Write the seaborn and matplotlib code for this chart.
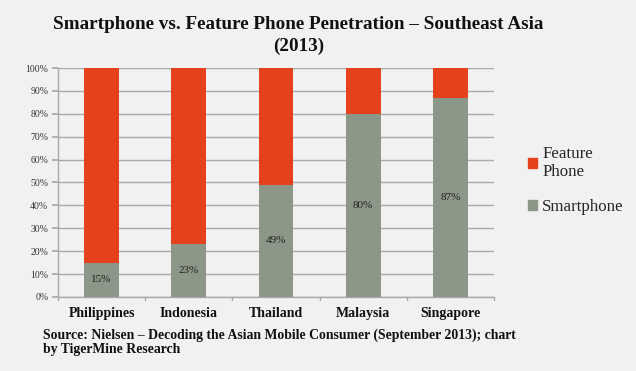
import matplotlib
matplotlib.use("Agg")
import matplotlib.pyplot as plt
from matplotlib.patches import Patch
import seaborn as sns
import pandas as pd
import numpy as np

countries = ["Philippines", "Indonesia", "Thailand", "Malaysia", "Singapore"]
smartphone = [15, 23, 49, 80, 87]
feature_phone = [85, 77, 51, 20, 13]
y_ticks = [0, 10, 20, 30, 40, 50, 60, 70, 80, 90, 100]

orange = "#e5411d"
grey = "#8c9787"
bg = "#f1f1f1"

sns.set_theme(style="white")
plt.rcParams["font.family"] = ["Liberation Serif", "DejaVu Serif"]

df = pd.DataFrame({
    "country": countries,
    "Smartphone": smartphone,
    "Feature Phone": feature_phone,
})
df["total"] = df["Smartphone"] + df["Feature Phone"]

fig = plt.figure(figsize=(6.36, 3.71), dpi=100, facecolor=bg)
ax = fig.add_axes([0.0912, 0.1995, 0.6855, 0.6172])
ax.set_facecolor(bg)

# stacked look: full bar in orange, smartphone share drawn over it
sns.barplot(df, x="country", y="total", color=orange, width=0.4,
            saturation=1, linewidth=0, edgecolor="none", ax=ax, zorder=3)
sns.barplot(df, x="country", y="Smartphone", color=grey, width=0.4,
            saturation=1, linewidth=0, edgecolor="none", ax=ax, zorder=3)

for i, v in enumerate(smartphone):
    ax.text(i, v / 2, f"{v}%", ha="center", va="center", fontsize=8,
            color="#222222", zorder=4)

ax.set_ylim(0, 100)
ax.set_xlim(-0.5, 4.5)
ax.set_yticks(y_ticks)
ax.set_yticklabels([f"{t}%" for t in y_ticks], fontsize=7, color="#333333")
ax.yaxis.grid(True, color="#a9a9a9", linewidth=1, zorder=0)
ax.set_xticks(range(len(countries)))
ax.set_xticklabels(countries, fontsize=10, fontweight="bold", color="#111111")
ax.tick_params(axis="x", length=0, pad=7)
ax.tick_params(axis="y", length=4, left=True, color="#a9a9a9", pad=3)
for b in np.arange(-0.5, 5.0, 1.0):
    ax.plot([b, b], [0, -1.2], color="#a9a9a9", lw=1, clip_on=False)
ax.set_xlabel("")
ax.set_ylabel("")
for s in ["top", "right"]:
    ax.spines[s].set_visible(False)
for s in ["left", "bottom"]:
    ax.spines[s].set_color("#a9a9a9")
    ax.spines[s].set_linewidth(1)

handles = [Patch(color=orange, label="Feature\nPhone"),
           Patch(color=grey, label="Smartphone")]
fig.legend(handles=handles, loc="upper left", bbox_to_anchor=(0.806, 0.648),
           frameon=False, fontsize=12.2, handlelength=0.55, handleheight=0.55,
           handletextpad=0.3, labelspacing=1.1)

fig.text(0.469, 0.933, "Smartphone vs. Feature Phone Penetration – Southeast Asia",
         ha="center", va="center", fontsize=13.75, fontweight="bold", color="#111111")
fig.text(0.469, 0.876, "(2013)", ha="center", va="center", fontsize=13.75,
         fontweight="bold", color="#111111")
fig.text(0.067, 0.096, "Source: Nielsen – Decoding the Asian Mobile Consumer (September 2013); chart",
         ha="left", va="center", fontsize=9.9, fontweight="bold", color="#111111")
fig.text(0.067, 0.057, "by TigerMine Research", ha="left", va="center",
         fontsize=9.9, fontweight="bold", color="#111111")

fig.savefig("out.png", dpi=100, facecolor=bg)
